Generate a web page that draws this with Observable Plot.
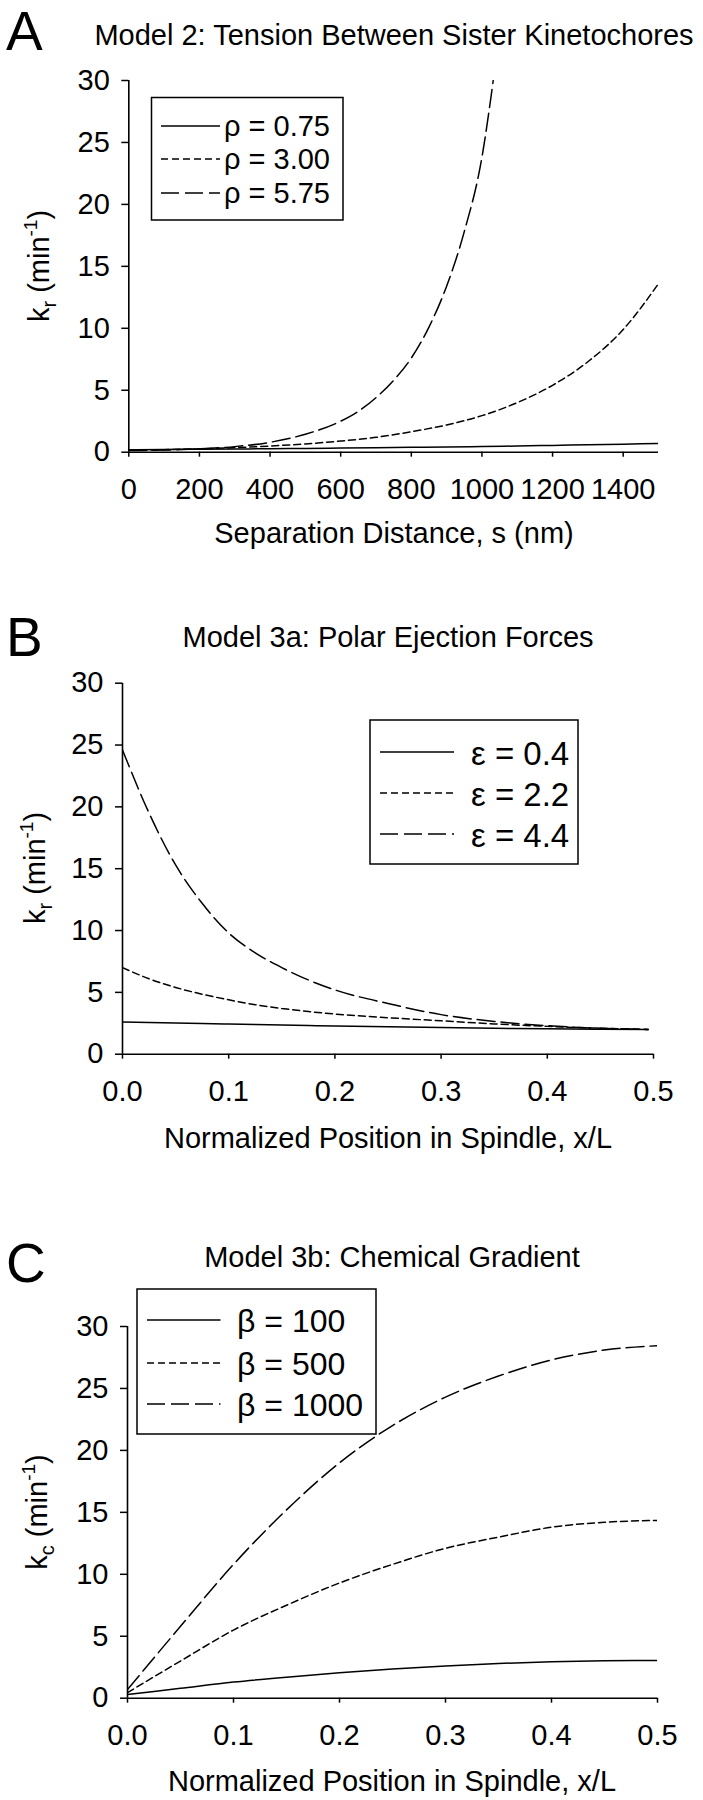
<!DOCTYPE html>
<html><head><meta charset="utf-8">
<script src="https://cdn.jsdelivr.net/npm/d3@7"></script>
<script src="https://cdn.jsdelivr.net/npm/@observablehq/plot@0.6"></script>
<style>
body{margin:0;background:#fff;}
#wrap{position:relative;width:703px;height:1800px;background:#fff;font-family:"Liberation Sans",Arial,sans-serif;}
#wrap svg{position:absolute;left:0;overflow:visible;}
</style></head><body><div id="wrap"></div>
<script>
// ---------- Panel A: Model 2 ----------
const sA = [0,100,200,300,400,500,600,700,800,900,1000,1100,1200,1300,1400,1500];
const rho075 = [0.20,0.22,0.24,0.26,0.28,0.30,0.33,0.36,0.39,0.42,0.46,0.50,0.55,0.60,0.65,0.70];
const rho300 = [0.15,0.20,0.27,0.37,0.50,0.67,0.90,1.20,1.65,2.20,2.95,4.00,5.40,7.30,9.90,13.6];
const sA575  = [0,100,200,300,400,500,600,650,700,750,800,850,900,950,1000,1032];
const rho575 = [0.12,0.17,0.27,0.45,0.80,1.45,2.50,3.30,4.40,5.80,7.60,10.1,13.4,17.8,23.8,30.0];
const ticksXA = [0,200,400,600,800,1000,1200,1400];
const legendA = ["ρ = 0.75","ρ = 3.00","ρ = 5.75"];

// ---------- Panel B: Model 3a ----------
const xB = [0,0.025,0.05,0.075,0.1,0.125,0.15,0.175,0.2,0.25,0.3,0.35,0.4,0.45,0.495];
const eps04 = [2.60,2.56,2.52,2.48,2.44,2.40,2.36,2.32,2.28,2.21,2.15,2.10,2.05,2.02,2.00];
const eps22 = [7.0,6.1,5.4,4.85,4.4,4.0,3.7,3.45,3.25,2.95,2.7,2.45,2.25,2.1,2.0];
const eps44 = [24.6,19.5,15.3,12.2,9.8,8.2,7.0,6.0,5.2,4.1,3.2,2.65,2.3,2.1,2.0];
const legendB = ["ε = 0.4","ε = 2.2","ε = 4.4"];

// ---------- Panel C: Model 3b ----------
const xC = [0,0.05,0.1,0.15,0.2,0.25,0.3,0.35,0.4,0.45,0.5];
const beta100  = [0.3,0.8,1.3,1.7,2.05,2.35,2.6,2.8,2.95,3.03,3.05];
const beta500  = [0.45,3.0,5.5,7.5,9.3,10.8,12.1,13.0,13.8,14.2,14.35];
const beta1000 = [0.7,5.8,10.8,15.2,19.0,22.0,24.3,26.0,27.3,28.1,28.45];
const legendC = ["β = 100","β = 500","β = 1000"];

const ticksXBC = [0,0.1,0.2,0.3,0.4,0.5];
const ticksY = [0,5,10,15,20,25,30];
const dashes = [null,"7,4","18,6"];
const FONT = '"Liberation Sans", Arial, sans-serif';

const wrap = document.getElementById("wrap");

function panel(cfg){
  const series = cfg.series.map(s => s.x.map((x,i)=>({x, y:s.y[i]})));
  const marks = [
    Plot.axisY({ticks: ticksY, tickSize: 7, tickPadding: 12, label: null, fontSize: 29, strokeWidth: 1.5}),
    Plot.axisX({ticks: cfg.xTicks, tickSize: 5, tickPadding: 21, label: null, fontSize: 29, strokeWidth: 1.5, tickFormat: cfg.fmt}),
    Plot.ruleX([cfg.xDomain[0]], {stroke:"#000", strokeWidth: 1.6}),
    Plot.ruleY([0], {stroke:"#000", strokeWidth: 1.6}),
    ...series.map((d,i) => Plot.line(d, {x:"x", y:"y", curve:"monotone-x", stroke:"#000", strokeWidth:1.5,
        strokeDasharray: dashes[i] ?? undefined, clip:true}))
  ];
  const svg = Plot.plot({
    width: 703, height: 600,
    marginTop: cfg.m[0], marginRight: cfg.m[1], marginBottom: cfg.m[2], marginLeft: cfg.m[3],
    style: {fontFamily: FONT, fontSize: "29px", color: "#000", background: "transparent", overflow: "visible"},
    x: {domain: cfg.xDomain},
    y: {domain: [0,30]},
    marks
  });
  svg.style.top = cfg.top + "px";
  wrap.appendChild(svg);
  const g = d3.select(svg).append("g").attr("font-family", FONT).attr("fill","#000").attr("text-anchor","start");
  const T = cfg.top;
  // panel letter
  g.append("text").attr("x",6).attr("y",cfg.letterY - T).attr("font-size",55).text(cfg.letter);
  // title
  g.append("text").attr("x",cfg.titleX).attr("y",cfg.titleY - T).attr("font-size",29)
    .attr("text-anchor","middle").text(cfg.title);
  // x label
  g.append("text").attr("x",cfg.titleX).attr("y",cfg.xLabY - T).attr("font-size",29)
    .attr("text-anchor","middle").text(cfg.xLabel);
  // y label
  const yl = g.append("text").attr("transform",`translate(${cfg.yLabX},${cfg.yLabY - T}) rotate(-90)`)
    .attr("text-anchor","middle").attr("font-size",29);
  yl.append("tspan").text("k");
  yl.append("tspan").attr("font-size",20).attr("dy",7).text(cfg.sub);
  yl.append("tspan").attr("dy",-7).text(" (min");
  yl.append("tspan").attr("font-size",19).attr("dy",-12).text("-1");
  yl.append("tspan").attr("dy",12).text(")");
  // legend
  const L = cfg.legend;
  g.append("rect").attr("x",L.x0).attr("y",L.y0 - T).attr("width",L.x1-L.x0).attr("height",L.y1-L.y0)
    .attr("fill","#fff").attr("stroke","#000").attr("stroke-width",1.5);
  L.labels.forEach((lab,i)=>{
    const by = L.base[i] - T;
    g.append("line").attr("x1",L.lx0).attr("x2",L.lx1).attr("y1",by - L.off).attr("y2",by - L.off)
      .attr("stroke","#000").attr("stroke-width",1.5).attr("stroke-dasharray",dashes[i]);
    g.append("text").attr("x",L.tx).attr("y",by).attr("font-size",L.fs).attr("text-anchor","start").text(lab);
  });
}

panel({
  top: 0, m: [80, 45, 148.3, 128.3], xDomain: [0,1500], xTicks: ticksXA, fmt: d3.format("d"),
  series: [{x:sA,y:rho075},{x:sA,y:rho300},{x:sA575,y:rho575}],
  letter: "A", letterY: 50, title: "Model 2: Tension Between Sister Kinetochores", titleX: 394, titleY: 45,
  xLabel: "Separation Distance, s (nm)", xLabY: 543, yLabX: 49, yLabY: 266, sub: "r",
  legend: {x0:151.5, x1:343, y0:97.5, y1:220, lx0:161, lx1:220, tx:224, base:[136,169,203], off:10, fs:29, labels: legendA}
});
panel({
  top: 600, m: [82.7, 50, 146.3, 122], xDomain: [0,0.5], xTicks: ticksXBC, fmt: d3.format(".1f"),
  series: [{x:xB,y:eps04},{x:xB,y:eps22},{x:xB,y:eps44}],
  letter: "B", letterY: 656, title: "Model 3a: Polar Ejection Forces", titleX: 388, titleY: 647,
  xLabel: "Normalized Position in Spindle, x/L", xLabY: 1148, yLabX: 45, yLabY: 868, sub: "r",
  legend: {x0:370, x1:578, y0:720, y1:864, lx0:380, lx1:454, tx:471, base:[765,806,847], off:13, fs:33, labels: legendB}
});
panel({
  top: 1200, m: [126, 46, 102.3, 127], xDomain: [0,0.5], xTicks: ticksXBC, fmt: d3.format(".1f"),
  series: [{x:xC,y:beta100},{x:xC,y:beta500},{x:xC,y:beta1000}],
  letter: "C", letterY: 1282, title: "Model 3b: Chemical Gradient", titleX: 392, titleY: 1267,
  xLabel: "Normalized Position in Spindle, x/L", xLabY: 1791, yLabX: 47, yLabY: 1512, sub: "c",
  legend: {x0:137, x1:376, y0:1289, y1:1434, lx0:147, lx1:220.5, tx:237, base:[1332,1375,1416], off:12, fs:32, labels: legendC}
});
</script></body></html>
